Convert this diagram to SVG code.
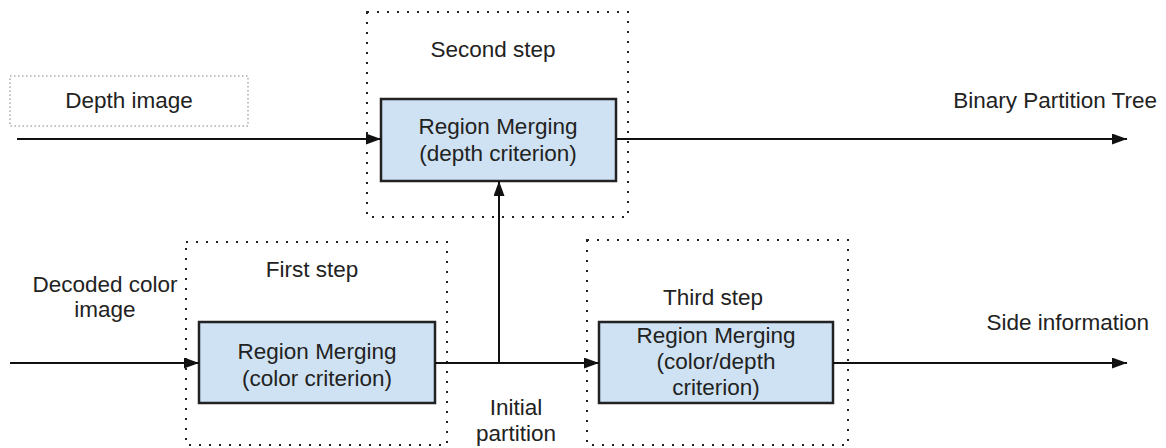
<svg xmlns="http://www.w3.org/2000/svg" width="1166" height="448" viewBox="0 0 1166 448">
  <style>
    .t { font-family: "Liberation Sans", Arial, sans-serif; font-size: 22.5px; fill: #222; }
    .m { text-anchor: middle; }
    .e { text-anchor: end; }
    .step { fill: none; stroke: #222; stroke-width: 2; stroke-dasharray: 2 8; }
    .lbl { fill: none; stroke: #aaa; stroke-width: 1.5; stroke-dasharray: 1.5 2.5; }
    .proc { fill: #cfe2f3; stroke: #222; stroke-width: 2.5; }
    .c { fill: none; stroke: #111; stroke-width: 2; }
  </style>
  <defs>
    <marker id="ah" markerUnits="userSpaceOnUse" markerWidth="15" markerHeight="11" refX="15" refY="5.5" orient="auto">
      <path d="M0,0 L15,5.5 L0,11 z" fill="#111"/>
    </marker>
  </defs>
  <rect width="1166" height="448" fill="#fff"/>

  <g id="step2">
    <rect class="step" x="367" y="12" width="261" height="205"/>
    <text class="t m" x="493" y="57">Second step</text>
  </g>
  <g id="step1">
    <rect class="step" x="186" y="242" width="261" height="203"/>
    <text class="t m" x="312" y="277">First step</text>
  </g>
  <g id="step3">
    <rect class="step" x="587" y="240" width="261" height="205"/>
    <text class="t m" x="713" y="305">Third step</text>
  </g>

  <g id="depth-image">
    <rect class="lbl" x="10" y="76" width="238" height="50"/>
    <text class="t m" x="129" y="108">Depth image</text>
  </g>
  <g id="decoded-color">
    <text class="t m" x="105" y="292">Decoded color</text>
    <text class="t m" x="105" y="317">image</text>
  </g>
  <g id="rm-depth">
    <rect class="proc" x="381" y="99" width="235" height="82"/>
    <text class="t m" x="498" y="134">Region Merging</text>
    <text class="t m" x="498" y="161">(depth criterion)</text>
  </g>
  <g id="rm-color">
    <rect class="proc" x="199" y="322" width="236" height="81"/>
    <text class="t m" x="317" y="359">Region Merging</text>
    <text class="t m" x="317" y="386">(color criterion)</text>
  </g>
  <g id="rm-colordepth">
    <rect class="proc" x="599" y="322" width="234" height="81"/>
    <text class="t m" x="716" y="343">Region Merging</text>
    <text class="t m" x="716" y="369">(color/depth</text>
    <text class="t m" x="716" y="395">criterion)</text>
  </g>
  <g id="bpt">
    <text class="t e" x="1157" y="108">Binary Partition Tree</text>
  </g>
  <g id="side-info">
    <text class="t e" x="1149" y="330">Side information</text>
  </g>
  <g id="initial-partition">
    <text class="t m" x="516" y="415">Initial</text>
    <text class="t m" x="516" y="441">partition</text>
  </g>

  <g id="connectors">
    <line class="c" x1="17" y1="139" x2="381" y2="139" marker-end="url(#ah)"/>
    <line class="c" x1="616" y1="139" x2="1127" y2="139" marker-end="url(#ah)"/>
    <line class="c" x1="10" y1="363" x2="199" y2="363" marker-end="url(#ah)"/>
    <line class="c" x1="435" y1="363" x2="599" y2="363" marker-end="url(#ah)"/>
    <line class="c" x1="499" y1="363" x2="499" y2="181" marker-end="url(#ah)"/>
    <line class="c" x1="833" y1="363" x2="1127" y2="363" marker-end="url(#ah)"/>
  </g>
</svg>
